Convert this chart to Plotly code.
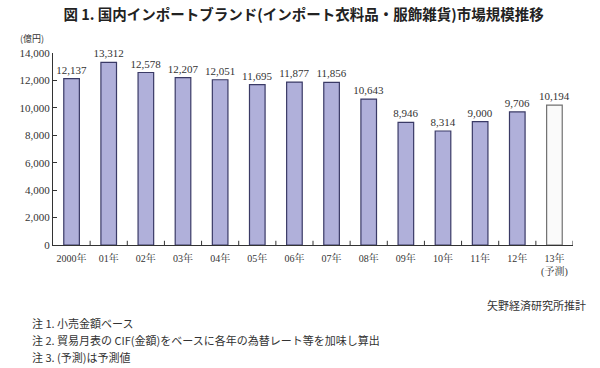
import plotly.graph_objects as go

years = ["2000年", "01年", "02年", "03年", "04年", "05年", "06年", "07年",
         "08年", "09年", "10年", "11年", "12年", "13年<br>(予測)"]
values = [12137, 13312, 12578, 12207, 12051, 11695, 11877, 11856,
          10643, 8946, 8314, 9000, 9706, 10194]
value_labels = [f"{v:,}" for v in values]
y_ticks = [0, 2000, 4000, 6000, 8000, 10000, 12000, 14000]

serif = "Liberation Serif, Noto Serif CJK JP, Noto Sans CJK JP, serif"
jp = "Noto Sans CJK JP, sans-serif"

colors = ["#b0b0da"] * (len(values) - 1) + ["#fafafa"]
lines = ["#3a3a66"] * (len(values) - 1) + ["#707070"]

x_idx = list(range(len(values)))
fig = go.Figure(go.Bar(
    x=x_idx, y=values,
    marker=dict(color=colors, line=dict(color=lines, width=1.2)),
    text=value_labels, textposition="outside", constraintext="none",
    textfont=dict(family=serif, size=11, color="#333333"),
    cliponaxis=False, width=0.42,
))

fig.update_layout(
    width=600, height=368,
    margin=dict(l=53, r=27, t=53, b=123),
    paper_bgcolor="white", plot_bgcolor="white",
    showlegend=False,
    xaxis=dict(
        tickmode="array", tickvals=x_idx, ticktext=years,
        range=[-0.5, len(values) - 0.5],
        showline=True, linecolor="#333333", linewidth=1,
        ticks="", showgrid=False, ticklabelstandoff=4,
        tickfont=dict(family=serif, size=10, color="#333333"),
    ),
    yaxis=dict(
        range=[0, 14000], tickvals=y_ticks,
        tickformat=",d",
        showline=True, linecolor="#333333", linewidth=1,
        ticks="inside", ticklen=4, tickcolor="#333333",
        showgrid=False, zeroline=False,
        tickfont=dict(family=serif, size=11, color="#333333"),
    ),
    title=dict(
        text="<b>図 1. 国内インポートブランド(インポート衣料品・服飾雑貨)市場規模推移</b>",
        x=0.506, xanchor="center", y=0.959, yanchor="middle",
        font=dict(family=jp, size=14.5, color="#222222"),
    ),
)

# category boundary ticks on the x axis
for b in range(1, len(values) + 1):
    fig.add_shape(type="line", xref="x", yref="paper",
                  x0=b - 0.5, x1=b - 0.5, y0=0, y1=0.022,
                  line=dict(color="#333333", width=1))

fig.add_annotation(text="(億円)", xref="paper", yref="paper",
                   x=-0.040, y=1.075, xanchor="center", yanchor="middle",
                   showarrow=False, font=dict(family=jp, size=9, color="#333333"))
fig.add_annotation(text="矢野経済研究所推計", xref="paper", yref="paper",
                   x=1.029, y=-0.31, xanchor="right", yanchor="middle",
                   showarrow=False, font=dict(family=jp, size=11, color="#333333"))
notes = ["注 1. 小売金額ベース",
         "注 2. 貿易月表の CIF(金額)をベースに各年の為替レート等を加味し算出",
         "注 3. (予測)は予測値"]
for i, n in enumerate(notes):
    fig.add_annotation(text=n, xref="paper", yref="paper",
                       x=-0.044, y=-0.406 - i * 0.0885, xanchor="left", yanchor="middle",
                       showarrow=False, font=dict(family=jp, size=11, color="#333333"))

fig.write_html("out.html", config={"displayModeBar": False},
               post_script="document.body.style.margin='0';")
